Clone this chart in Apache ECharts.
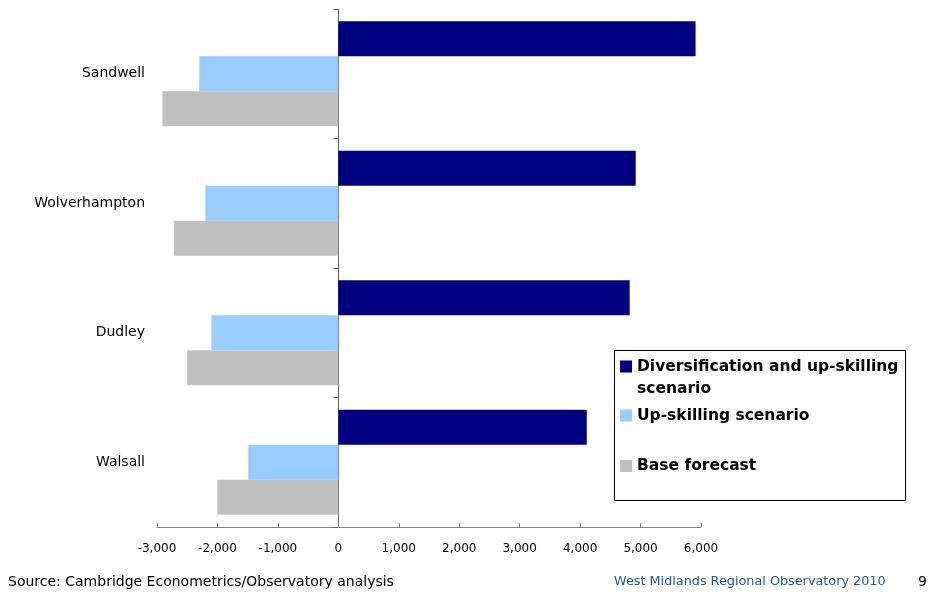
<!DOCTYPE html>
<html>
<head>
<meta charset="utf-8">
<title>Employment change by scenario</title>
<script src="https://cdn.jsdelivr.net/npm/echarts@6/dist/echarts.min.js"></script>
<style>
  html, body { margin: 0; padding: 0; background: #ffffff; }
  #chart { width: 928px; height: 592px; }
</style>
</head>
<body>
<div id="chart"></div>
<script>
// Local authorities, top to bottom
var areas = ['Sandwell', 'Wolverhampton', 'Dudley', 'Walsall'];

// Change in employment under each scenario
var diversification = [5910, 4920, 4820, 4110];
var upskilling = [-2300, -2200, -2100, -1490];
var baseForecast = [-2910, -2720, -2500, -2000];

var seriesNames = [
  'Diversification and up-skilling scenario',
  'Up-skilling scenario',
  'Base forecast'
];
var seriesColors = ['#000080', '#99ccff', '#c0c0c0'];

var xMin = -3000, xMax = 6000, xStep = 1000;

var FONT = 'DejaVu Sans';

function withCommas(v) {
  var s = String(Math.abs(v)).replace(/\B(?=(\d{3})+(?!\d))/g, ',');
  return (v < 0 ? '-' : '') + s;
}

var chart = echarts.init(document.getElementById('chart'), null, { renderer: 'canvas' });

var legendText = { fontFamily: FONT, fontSize: 15.5, fontWeight: 'bold', color: '#000000', lineHeight: 22 };
var legendCommon = {
  orient: 'vertical',
  padding: 0,
  itemWidth: 12, itemHeight: 12, itemGap: 0,
  icon: 'rect',
  itemStyle: { borderWidth: 0 },
  textStyle: legendText,
  selectedMode: false
};

chart.setOption({
  animation: false,
  backgroundColor: '#ffffff',
  textStyle: { fontFamily: FONT },
  title: [
    {
      text: 'Source: Cambridge Econometrics/Observatory analysis',
      left: 3, top: 570,
      textStyle: { fontFamily: FONT, fontSize: 14, fontWeight: 'normal', color: '#000000' }
    },
    {
      text: 'West Midlands Regional Observatory 2010',
      left: 609, top: 570,
      textStyle: { fontFamily: FONT, fontSize: 12.8, fontWeight: 'normal', color: '#1f55a0' }
    },
    {
      text: '9',
      left: 913, top: 570,
      textStyle: { fontFamily: FONT, fontSize: 14, fontWeight: 'normal', color: '#000000' }
    }
  ],
  // frame around the key
  graphic: [{
    type: 'rect',
    shape: { x: 614.5, y: 350.5, width: 291, height: 150 },
    style: { fill: 'none', stroke: '#000000', lineWidth: 1 },
    silent: true
  }],
  legend: [
    Object.assign({}, legendCommon, {
      data: [seriesNames[0]],
      // the empty first line keeps the key's first line level with its swatch
      formatter: function () { return '\nDiversification and up-skilling\nscenario'; },
      left: 620, top: 333.5
    }),
    Object.assign({}, legendCommon, {
      data: [seriesNames[1]],
      left: 620, top: 404.5
    }),
    Object.assign({}, legendCommon, {
      data: [seriesNames[2]],
      left: 620, top: 455
    })
  ],
  grid: { left: 157, right: 227, top: 9, bottom: 65, containLabel: false },
  xAxis: {
    type: 'value',
    min: xMin, max: xMax, interval: xStep,
    splitLine: { show: false },
    axisLine: { show: true, lineStyle: { color: '#808080', width: 1 } },
    axisTick: { show: true, inside: true, length: 4, lineStyle: { color: '#808080' } },
    axisLabel: {
      margin: 16, fontFamily: FONT, fontSize: 12, color: '#000000',
      formatter: withCommas
    }
  },
  yAxis: [
    {
      // category names, set against the left edge of the plot
      type: 'category',
      data: areas,
      inverse: true,
      axisLine: { show: false, onZero: false },
      axisTick: { show: false },
      axisLabel: { margin: 12, fontFamily: FONT, fontSize: 14, color: '#000000' }
    },
    {
      // the category axis line drawn through zero
      type: 'category',
      data: areas,
      inverse: true,
      axisLine: { show: true, onZero: true, lineStyle: { color: '#606060', width: 1 } },
      axisTick: { show: true, inside: true, length: 5, lineStyle: { color: '#606060' } },
      axisLabel: { show: false }
    }
  ],
  series: [
    {
      name: seriesNames[0], type: 'bar', data: diversification,
      yAxisIndex: 0, barGap: '0%', barCategoryGap: '19%',
      itemStyle: { color: seriesColors[0] }, z: 2
    },
    {
      name: seriesNames[1], type: 'bar', data: upskilling,
      yAxisIndex: 0, barGap: '0%', barCategoryGap: '19%',
      itemStyle: { color: seriesColors[1] }, z: 2
    },
    {
      name: seriesNames[2], type: 'bar', data: baseForecast,
      yAxisIndex: 0, barGap: '0%', barCategoryGap: '19%',
      itemStyle: { color: seriesColors[2] }, z: 2
    }
  ]
});
</script>
</body>
</html>
